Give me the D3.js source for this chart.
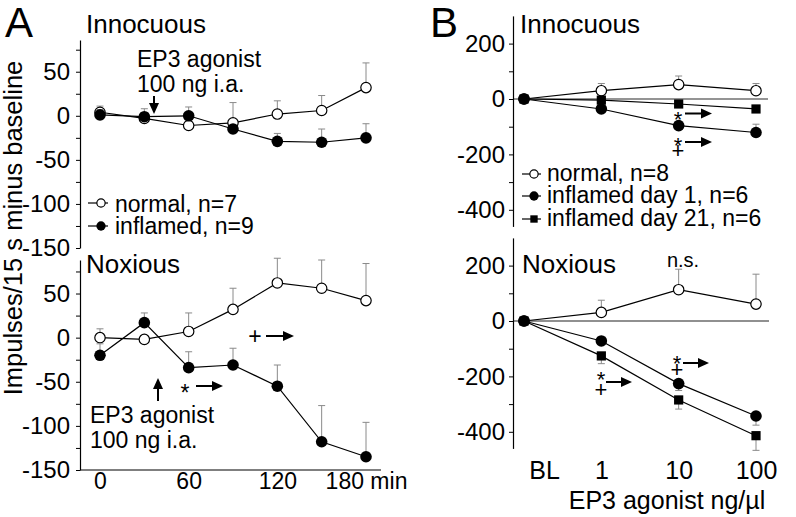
<!DOCTYPE html>
<html><head><meta charset="utf-8">
<script src="https://cdn.jsdelivr.net/npm/d3@7/dist/d3.min.js"></script>
<style>
body{margin:0;background:#fff}
svg text{font-family:'Liberation Sans',Arial,Helvetica,sans-serif;fill:#000}
</style></head>
<body><svg id="c" width="796" height="517"></svg>
<script>
// ---------- DATA ----------
const timePoints = [0, 30, 60, 90, 120, 150, 180];
const timeTickLabels = ["0", "60", "120", "180 min"];
const timeTickValues = [0, 60, 120, 180];

// Panel A – Innocuous
const aInnoNormal = [4, -3, -11, -8, 2, 6, 32];
const aInnoNormalErr = [7, 6, 8, 23, 15, 17, 28];
const aInnoInflamed = [1, -1, 0, -15, -29, -30, -25];
const aInnoInflamedErr = [6, 9, 10, 5, 9, 15, 16];
// Panel A – Noxious
const aNoxNormal = [0, -2, 7, 32, 62, 56, 42];
const aNoxNormalErr = [10, 4, 21, 24, 28, 32, 42];
const aNoxInflamed = [-20, 17, -34, -31, -55, -118, -135];
const aNoxInflamedErr = [13, 11, 18, 19, 24, 41, 39];

const aYMajor = [-150, -100, -50, 0, 50];
const aYMinor = [-125, -75, -25, 25, 75];

// Panel B
const doseCats = ["BL", "1", "10", "100"];
const bInnoNormal = [0, 30, 52, 30];
const bInnoNormalErr = [0, 26, 31, 26];
const bInnoDay1 = [0, -36, -96, -121];
const bInnoDay1Err = [0, 8, 10, 30];
const bInnoDay21 = [0, -4, -18, -36];
const bInnoDay21Err = [0, 6, 8, 8];

const bNoxNormal = [0, 31, 113, 61];
const bNoxNormalErr = [0, 44, 74, 108];
const bNoxDay1 = [0, -72, -226, -343];
const bNoxDay1Err = [0, 12, 25, 33];
const bNoxDay21 = [0, -126, -285, -414];
const bNoxDay21Err = [0, 28, 33, 53];

const bYMajor = [-400, -200, 0, 200];
const bYMinor = [-300, -100, 100];

// ---------- DRAW ----------
const FONT = "'Liberation Sans',Arial,sans-serif";
const svg = d3.select("#c");
svg.append("rect").attr("width", 796).attr("height", 517).attr("fill", "#fff");

function txt(x, y, s, size, anchor, rot) {
  return svg.append("text")
    .attr("transform", `translate(${x},${y})` + (rot ? ` rotate(${rot})` : ""))
    .attr("text-anchor", anchor || "start")
    .style("font-size", size + "px")
    .text(s);
}

// stacked symbols (e.g. * over +) as one text element
function stack(x, y, lines, size, gap) {
  const t = svg.append("text").attr("text-anchor", "middle").style("font-size", size + "px");
  lines.forEach((s, i) => t.append("tspan").attr("x", x).attr("y", y + i * gap).text(s));
  return t;
}

function yAxis(x, scale, major, minor, pad) {
  const g = svg.append("g").attr("transform", `translate(${x},0)`);
  g.call(d3.axisLeft(scale)
      .tickValues(major.concat(minor))
      .tickFormat(d => major.includes(d) ? String(d) : "")
      .tickSize(4).tickSizeOuter(0).tickPadding(pad));
  g.select(".domain").attr("stroke", "#000").attr("stroke-width", 1.2);
  g.selectAll(".tick line").attr("stroke", "#000").attr("stroke-width", 1);
  g.selectAll(".tick text").style("font-size", "24px")
    .style("font-family", FONT).attr("fill", "#000");
  return g;
}

function series(xs, ys, xv, vals, errs, dir, marker) {
  const g = svg.append("g");
  xv.forEach((xd, i) => {
    const e = errs[i];
    if (!e) return;
    const x = xs(xd), y0 = ys(vals[i]), y1 = ys(vals[i] + dir * e);
    g.append("line").attr("x1", x).attr("x2", x).attr("y1", y0).attr("y2", y1)
      .attr("stroke", "#8a8a8a").attr("stroke-width", 1);
    g.append("line").attr("x1", x - 3.5).attr("x2", x + 3.5).attr("y1", y1).attr("y2", y1)
      .attr("stroke", "#8a8a8a").attr("stroke-width", 1);
  });
  const line = d3.line().x((d, i) => xs(xv[i])).y(d => ys(d));
  g.append("path").datum(vals).attr("d", line).attr("fill", "none")
    .attr("stroke", "#000").attr("stroke-width", 1.2);
  vals.forEach((v, i) => drawMarker(g, xs(xv[i]), ys(v), marker, 1));
}

function drawMarker(g, x, y, m, s) {
  if (m === "open") {
    g.append("circle").attr("cx", x).attr("cy", y).attr("r", 5.2 * s)
      .attr("fill", "#fff").attr("stroke", "#000").attr("stroke-width", 1.2);
  } else if (m === "filled") {
    g.append("circle").attr("cx", x).attr("cy", y).attr("r", 5.8 * s).attr("fill", "#000");
  } else {
    const h = 4.6 * s;
    g.append("rect").attr("x", x - h).attr("y", y - h).attr("width", 2 * h).attr("height", 2 * h).attr("fill", "#000");
  }
}

function arrow(x1, y1, x2, y2) {
  const ang = Math.atan2(y2 - y1, x2 - x1), L = 11, W = 5;
  const bx = x2 - L * Math.cos(ang), by = y2 - L * Math.sin(ang);
  svg.append("line").attr("x1", x1).attr("y1", y1).attr("x2", bx).attr("y2", by)
    .attr("stroke", "#000").attr("stroke-width", 2);
  const px = -Math.sin(ang) * W, py = Math.cos(ang) * W;
  svg.append("path").attr("d", `M${x2},${y2}L${bx + px},${by + py}L${bx - px},${by - py}Z`).attr("fill", "#000");
}

function legendRow(x1, x2, xm, y, m, label, tx, ty) {
  svg.append("line").attr("x1", x1).attr("x2", x2).attr("y1", y).attr("y2", y)
    .attr("stroke", "#000").attr("stroke-width", 1.2);
  drawMarker(svg, xm, y, m, 0.8);
  txt(tx, ty, label, 23);
}

// ---- Panel A scales
const xA = d3.scaleLinear().domain([0, 180]).range([100, 366]);
const yAt = d3.scaleLinear().domain([-150, 86]).range([248, 40]);
const yAb = d3.scaleLinear().domain([-150, 88]).range([470, 260]);

yAxis(80, yAt, aYMajor, aYMinor, 6);
yAxis(80, yAb, aYMajor, aYMinor, 6);

svg.append("line").attr("x1", 80).attr("x2", 381).attr("y1", 470).attr("y2", 470)
  .attr("stroke", "#000").attr("stroke-width", 1.2);
const gx = svg.append("g").attr("transform", "translate(0,470)")
  .call(d3.axisBottom(xA).tickValues(timeTickValues)
    .tickFormat((d, i) => timeTickLabels[i]).tickSize(0).tickPadding(3));
gx.select(".domain").remove();
gx.selectAll(".tick text").style("font-size", "23px").attr("fill", "#000").style("font-family", FONT);

series(xA, yAt, timePoints, aInnoNormal, aInnoNormalErr, 1, "open");
series(xA, yAt, timePoints, aInnoInflamed, aInnoInflamedErr, 1, "filled");
series(xA, yAb, timePoints, aNoxNormal, aNoxNormalErr, 1, "open");
series(xA, yAb, timePoints, aNoxInflamed, aNoxInflamedErr, 1, "filled");

txt(5, 37, "A", 42);
txt(86, 33, "Innocuous", 26);
txt(86, 273, "Noxious", 26);
txt(22, 228, "Impulses/15 s minus baseline", 25.5, "middle", -90);

txt(137, 67, "EP3 agonist", 23);
txt(137, 92, "100 ng i.a.", 23);
arrow(154, 96, 154, 114);

legendRow(88, 108, 101, 203, "open", "normal, n=7", 115, 212);
legendRow(88, 108, 101, 226, "filled", "inflamed, n=9", 115, 234);

arrow(158, 401, 158, 378);
txt(90, 423, "EP3 agonist", 23);
txt(90, 448, "100 ng i.a.", 23);
txt(185, 401, "*", 23, "middle");
arrow(196, 386, 223, 386);
txt(255, 344, "+", 23, "middle");
arrow(266, 336, 294, 336);

// ---- Panel B scales
const xB = d3.scalePoint().domain(doseCats).range([524, 756]);
const yBt = d3.scaleLinear().domain([-460, 300]).range([99 + 460 * 0.277, 99 - 300 * 0.277]);
const yBb = d3.scaleLinear().domain([-460, 300]).range([321 + 460 * 0.277, 321 - 300 * 0.277]);

svg.append("line").attr("x1", 513).attr("x2", 768).attr("y1", yBt(0)).attr("y2", yBt(0))
  .attr("stroke", "#707070").attr("stroke-width", 1.6);
svg.append("line").attr("x1", 513).attr("x2", 769).attr("y1", yBb(0)).attr("y2", yBb(0))
  .attr("stroke", "#222").attr("stroke-width", 1.1);

yAxis(513, yBt, bYMajor, bYMinor, 4);
yAxis(513, yBb, bYMajor, bYMinor, 4);

const gxb = svg.append("g").attr("transform", "translate(0,458)")
  .call(d3.axisBottom(xB).tickSize(0).tickPadding(3));
gxb.select(".domain").remove();
gxb.selectAll(".tick text").style("font-size", "25px").attr("fill", "#000").style("font-family", FONT)
  .attr("x", d => d === "BL" ? 20 : 0);
txt(667, 509, "EP3 agonist ng/\u00b5l", 25, "middle");

series(xB, yBt, doseCats, bInnoNormal, bInnoNormalErr, 1, "open");
series(xB, yBt, doseCats, bInnoDay21, bInnoDay21Err, 1, "square");
series(xB, yBt, doseCats, bInnoDay1, bInnoDay1Err, 1, "filled");

series(xB, yBb, doseCats, bNoxNormal, bNoxNormalErr, 1, "open");
series(xB, yBb, doseCats, bNoxDay21, bNoxDay21Err, -1, "square");
series(xB, yBb, doseCats, bNoxDay1, bNoxDay1Err, -1, "filled");

txt(430, 37, "B", 42);
txt(520, 33, "Innocuous", 26);
txt(522, 273, "Noxious", 26);
txt(683, 267, "n.s.", 20, "middle");

legendRow(522, 541, 534, 174, "open", "normal, n=8", 547, 181);
legendRow(522, 541, 534, 196, "filled", "inflamed day 1, n=6", 547, 203);
legendRow(522, 541, 534, 219, "square", "inflamed day 21, n=6", 547, 226);

txt(678, 127, "*", 22, "middle");
arrow(685, 113.5, 712, 113.5);
stack(678, 153, ["*", "+"], 22, 5);
arrow(685, 142, 712, 142);

stack(601, 387, ["*", "+"], 22, 10);
arrow(606, 382, 632, 382);
stack(677, 371, ["*", "+"], 22, 6);
arrow(683, 363, 709, 363);
</script></body></html>
